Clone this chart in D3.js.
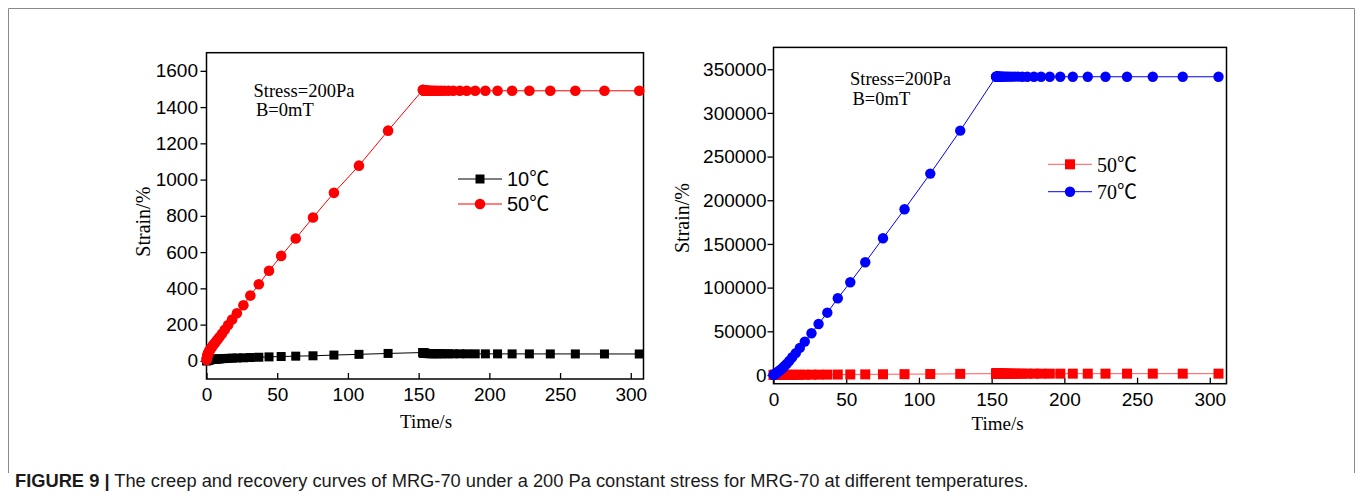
<!DOCTYPE html>
<html><head><meta charset="utf-8">
<script src="https://cdn.jsdelivr.net/npm/d3@7"></script>
<style>body{margin:0;background:#fff}</style>
</head><body>
<svg id="c" width="1358" height="496"></svg>
<script>
// ---- data ----
const creepTime = [0.1,0.2,0.3,0.4,0.55,0.7,0.85,1.0,1.2,1.45,1.7,2.0,2.4,2.85,3.4,4.0,4.7,5.6,6.6,7.8,9.2,10.9,12.9,15.3,18.1,21.5,26.1,31.0,37.0,44.2,52.8,63.1,75.3,90.1,107.8,128.4,153.0];
const recoveryTime = [153.1,153.2,153.3,153.4,153.55,153.7,153.85,154.0,154.2,154.45,154.7,155.0,155.4,155.85,156.4,157.0,157.7,158.6,159.6,160.8,162.2,163.9,165.9,168.3,171.1,174.5,179.1,184.0,190.0,197.2,205.8,216.1,228.3,243.1,260.8,281.4,306.0];

const strain10Creep = [0,1,1.5,2,2.5,3,3.5,4,4.5,5,5.5,6,6.5,7,7.5,8,8.5,9,9.5,10,11,12,13,14,15,16,17,18.5,20,22,24,26,28,32,36,41,46];
const strain10Recovery = [45.5,45,44.5,44,43.5,43,42.5,42,41.8,41.5,41.2,41,40.8,40.6,40.4,40.2,40,40,39.8,39.6,39.5,39.4,39.3,39.2,39.1,39,39,38.9,38.8,38.7,38.6,38.5,38.4,38.3,38.2,38.1,38];

const strain50Creep = [5,10,15,20,25,30,34,38,42,46,50,55,60,66,72,79,87,96,106,118,132,150,172,198,228,263,307,360,423,497,579,675,791,927,1077,1270,1495];
const strain50Recovery = [1494,1494,1493,1493,1493,1492,1492,1492,1492,1491,1491,1491,1491,1491,1490,1490,1490,1490,1490,1490,1490,1490,1490,1490,1490,1490,1490,1490,1490,1490,1490,1490,1490,1490,1490,1490,1490];

const strain70Creep = [100,200,300,400,550,700,850,1000,1200,1450,1750,2100,2600,3200,3900,4700,5700,7000,8500,10500,13000,16200,20300,25000,31000,38200,47700,58400,71300,87800,106100,129000,156500,189700,230500,279700,341500];
const strain70Recovery = [341500,341500,341500,341500,341500,341500,341500,341500,341500,341500,341500,341500,341500,341500,341500,341500,341500,341500,341500,341500,341500,341500,341500,341500,341400,341400,341400,341400,341400,341400,341400,341400,341400,341400,341400,341400,341400];

const xTicks = [0,50,100,150,200,250,300];
const yTicksLeft = [0,200,400,600,800,1000,1200,1400,1600];
const yTicksRight = [0,50000,100000,150000,200000,250000,300000,350000];

const legendLeft = ["10℃","50℃"];
const legendRight = ["50℃","70℃"];
const annotation = ["Stress=200Pa","B=0mT"];
const xTitle = "Time/s", yTitle = "Strain/%";
const captionBold = "FIGURE 9 |";
const captionText = " The creep and recovery curves of MRG-70 under a 200 Pa constant stress for MRG-70 at different temperatures.";

// ---- drawing ----
const svg = d3.select("#c");
const SANS = "'Liberation Sans', Arial, 'Noto Sans CJK SC', sans-serif";
const SERIF = "'Liberation Serif', 'Times New Roman', 'Noto Sans CJK SC', serif";

svg.append("path").attr("d","M8.5,473V8.5H1354.5V473")
  .attr("fill","none").attr("stroke","#8a8a8a").attr("stroke-width",1);

function zip(t, v){ return t.map((d,i)=>({t:d, v:v[i]})); }

function panel(cfg){
  const g = svg.append("g");
  const x = d3.scaleLinear().domain(cfg.xDomain).range(cfg.xRange);
  const y = d3.scaleLinear().domain(cfg.yDomain).range(cfg.yRange);

  const xa = g.append("g").attr("transform",`translate(0,${cfg.yRange[0]})`)
    .call(d3.axisBottom(x).tickValues(xTicks).tickSizeInner(-6).tickSizeOuter(0).tickPadding(9));
  const ya = g.append("g").attr("transform",`translate(${cfg.xRange[0]},0)`)
    .call(d3.axisLeft(y).tickValues(cfg.yTicks).tickFormat(d3.format("d")).tickSizeInner(6).tickSizeOuter(0).tickPadding(cfg.yPad));
  [xa,ya].forEach(a=>{
    a.select(".domain").remove();
    a.selectAll("line").attr("stroke","#000").attr("stroke-width",1.3);
    a.selectAll("text").attr("font-family",SANS).attr("font-size",cfg.tickFont).attr("fill","#000");
  });

  g.append("rect").attr("x",cfg.xRange[0]).attr("y",cfg.yRange[1])
    .attr("width",cfg.xRange[1]-cfg.xRange[0]).attr("height",cfg.yRange[0]-cfg.yRange[1])
    .attr("fill","none").attr("stroke","#000").attr("stroke-width",1.5);

  const line = d3.line().x(d=>x(d.t)).y(d=>y(d.v));
  cfg.series.forEach(s=>{
    const data = zip(s.t, s.v);
    g.append("path").datum(data).attr("d",line).attr("fill","none").attr("stroke",s.lineColor||s.color).attr("stroke-width",1);
    const m = g.append("g").attr("fill",s.color);
    if(s.shape==="circle"){
      m.selectAll("circle").data(data).join("circle").attr("cx",d=>x(d.t)).attr("cy",d=>y(d.v)).attr("r",s.size/2);
    } else {
      m.selectAll("rect").data(data).join("rect").attr("x",d=>x(d.t)-s.size/2).attr("y",d=>y(d.v)-s.size/2).attr("width",s.size).attr("height",s.size);
    }
  });

  // legend
  cfg.legend.forEach((s,i)=>{
    const yy = cfg.legendY[i];
    g.append("line").attr("x1",cfg.legendX[0]).attr("x2",cfg.legendX[1]).attr("y1",yy).attr("y2",yy).attr("stroke",s.lineColor||s.color).attr("stroke-width",1);
    const mx = (cfg.legendX[0]+cfg.legendX[1])/2;
    if(s.shape==="circle") g.append("circle").attr("cx",mx).attr("cy",yy).attr("r",s.size/2).attr("fill",s.color);
    else g.append("rect").attr("x",mx-s.size/2).attr("y",yy-s.size/2).attr("width",s.size).attr("height",s.size).attr("fill",s.color);
    g.append("text").attr("x",cfg.legendX[1]+5).attr("y",yy).attr("dy","0.36em")
      .attr("font-family",cfg.legendFont).attr("font-size",20).text(s.label);
  });

  // annotation
  annotation.forEach((t,i)=>{
    g.append("text").attr("x",cfg.annX[i]).attr("y",cfg.annY[i]).attr("font-family",SERIF).attr("font-size",18.5).text(t);
  });

  // titles
  g.append("text").attr("x",cfg.xTitle[0]).attr("y",cfg.xTitle[1]).attr("text-anchor","middle")
    .attr("font-family",SERIF).attr("font-size",19).text(xTitle);
  g.append("text").attr("transform",`translate(${cfg.yTitle[0]},${cfg.yTitle[1]}) rotate(-90)`).attr("text-anchor","middle")
    .attr("font-family",SERIF).attr("font-size",20).text(yTitle);
}

const s10 = {label:legendLeft[0], color:"#000000", shape:"square", size:9, t:creepTime.concat(recoveryTime), v:strain10Creep.concat(strain10Recovery)};
const s50L = {label:legendLeft[1], color:"#ff0000", shape:"circle", size:10.6, t:creepTime.concat(recoveryTime), v:strain50Creep.concat(strain50Recovery)};
const s50R = {label:legendRight[0], color:"#ff0000", lineColor:"#ff5a5a", shape:"square", size:10, t:creepTime.concat(recoveryTime), v:strain50Creep.concat(strain50Recovery)};
const s70 = {label:legendRight[1], color:"#0000ff", shape:"circle", size:10.4, t:creepTime.concat(recoveryTime), v:strain70Creep.concat(strain70Recovery)};

panel({
  xDomain:[0,309], xRange:[206.5,643.5],
  yDomain:[-100,1700], yRange:[379,52.7],
  yTicks:yTicksLeft, yPad:2.5, tickFont:19,
  series:[s10, s50L], legend:[s10, s50L],
  legendX:[458,502], legendY:[179,204], legendFont:SANS,
  annX:[253.5,256], annY:[96.5,115.5],
  xTitle:[426,428], yTitle:[149.5,221.7]
});
panel({
  xDomain:[0,311.5], xRange:[773.5,1226.5],
  yDomain:[-10000,375000], yRange:[383.7,47.4],
  yTicks:yTicksRight, yPad:1, tickFont:19,
  series:[s50R, s70], legend:[s50R, s70],
  legendX:[1048,1092], legendY:[164.3,191.7], legendFont:SERIF,
  annX:[850,852.5], annY:[84.5,104.5],
  xTitle:[997.6,430], yTitle:[689,218]
});

// caption
const cap = svg.append("text").attr("x",15).attr("y",487).attr("font-family",SANS).attr("font-size",18.3).attr("fill","#1a1a1a");
cap.append("tspan").attr("font-weight","bold").text(captionBold);
cap.append("tspan").text(captionText);
</script>
</body></html>
